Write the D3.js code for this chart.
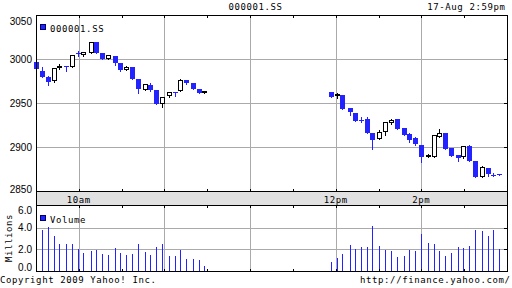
<!DOCTYPE html>
<html>
<head>
<meta charset="utf-8">
<script src="https://cdn.jsdelivr.net/npm/d3@7"></script>
<style>
  body { margin: 0; background: #fff; }
  svg { display: block; }
</style>
</head>
<body>
<svg id="chart"></svg>
<script>
// 000001.SS intraday, 17-Aug 2009
// bar times are minutes after 9:30
var morningTime  = [0, 4.2, 8.4, 12.6, 16.1, 21.0, 25.2, 29.4, 32.9, 38.5, 42.0, 46.2, 50.4, 55.3, 58.8, 63.1, 67.3, 71.5, 76.4, 79.9, 84.1, 88.3, 93.2, 97.4, 100.9, 105.1, 110.0, 114.2, 117.7];
var morningOpen  = [2996.3, 2986.5, 2980.0, 2975.3, 2989.4, 2992.0, 2990.6, 3006.8, 3004.2, 3007.0, 3019.0, 3006.5, 3000.0, 3003.0, 2995.0, 2987.2, 2990.6, 2977.0, 2965.1, 2970.1, 2964.4, 2948.5, 2957.6, 2962.2, 2963.3, 2975.8, 2972.4, 2965.6, 2961.0];
var morningHigh  = [2997.5, 2991.0, 2980.5, 2989.6, 2994.0, 2992.0, 3004.4, 3008.7, 3007.8, 3019.2, 3019.2, 3006.7, 3004.7, 3003.2, 2995.2, 2991.8, 2990.8, 2977.2, 2971.4, 2972.4, 2964.6, 2956.7, 2962.4, 2962.2, 2977.0, 2976.0, 2972.6, 2965.8, 2963.5];
var morningLow   = [2987.5, 2979.5, 2970.0, 2974.0, 2989.0, 2986.0, 2990.4, 3003.0, 3003.0, 3006.8, 3006.3, 2999.5, 2999.8, 2992.8, 2986.8, 2987.0, 2976.8, 2961.0, 2964.9, 2964.2, 2948.3, 2945.8, 2956.6, 2957.6, 2963.1, 2971.2, 2965.4, 2960.8, 2960.8];
var morningClose = [2988.3, 2980.0, 2974.2, 2989.4, 2991.7, 2991.5, 3004.2, 3006.3, 3007.6, 3019.0, 3006.5, 2999.7, 3004.5, 2995.0, 2987.0, 2990.6, 2977.0, 2965.6, 2971.2, 2964.4, 2948.5, 2956.5, 2962.2, 2961.8, 2975.8, 2972.4, 2965.6, 2961.0, 2963.3];
var morningVol   = [3.5, 3.78, 4.03, 3.22, 2.48, 2.48, 2.48, 2.0, 1.64, 1.83, 1.92, 1.55, 1.46, 2.1, 1.64, 1.46, 1.55, 2.48, 1.74, 1.46, 2.2, 2.48, 1.36, 1.36, 1.92, 1.09, 1.09, 0.99, 0.43];

var afternoonTime  = [206.7, 210.9, 214.4, 220.0, 223.5, 227.7, 231.9, 235.4, 240.3, 244.5, 248.7, 252.9, 257.8, 261.3, 265.5, 269.7, 274.6, 278.8, 282.3, 286.6, 290.8, 295.7, 299.2, 303.4, 307.6, 312.5, 316.7, 320.2, 324.4];
var afternoonOpen  = [2962.2, 2957.6, 2958.8, 2944.0, 2938.3, 2930.5, 2931.5, 2915.6, 2909.4, 2916.7, 2927.6, 2931.5, 2921.3, 2914.4, 2910.6, 2902.6, 2889.0, 2889.0, 2911.7, 2915.6, 2898.5, 2890.6, 2889.0, 2900.8, 2884.0, 2866.3, 2875.8, 2868.7, 2869.2];
var afternoonHigh  = [2962.4, 2960.8, 2959.0, 2944.2, 2938.5, 2933.7, 2933.7, 2915.8, 2919.0, 2928.2, 2931.5, 2931.7, 2921.5, 2915.6, 2911.8, 2902.8, 2892.5, 2913.5, 2920.0, 2915.8, 2898.7, 2890.8, 2901.0, 2902.2, 2884.2, 2878.0, 2876.0, 2870.2, 2869.4];
var afternoonLow   = [2957.0, 2955.3, 2943.3, 2936.7, 2929.7, 2928.0, 2915.4, 2897.7, 2909.2, 2913.3, 2926.3, 2920.6, 2913.1, 2905.3, 2902.8, 2883.3, 2888.8, 2888.8, 2911.5, 2897.8, 2889.6, 2884.0, 2888.0, 2884.2, 2866.1, 2866.1, 2866.7, 2866.7, 2868.0];
var afternoonClose = [2957.2, 2959.9, 2943.5, 2939.4, 2929.9, 2930.0, 2915.6, 2908.0, 2916.7, 2928.0, 2930.3, 2920.8, 2913.3, 2907.6, 2903.0, 2889.0, 2890.5, 2913.3, 2915.6, 2898.0, 2889.8, 2887.8, 2900.8, 2884.4, 2866.3, 2876.9, 2869.0, 2868.3, 2868.8];
var afternoonVol   = [0.84, 1.21, 1.58, 2.39, 2.02, 2.2, 2.2, 4.16, 2.29, 1.92, 1.83, 1.27, 1.36, 1.92, 1.83, 3.41, 2.57, 2.48, 1.83, 1.36, 1.64, 2.2, 2.1, 2.29, 3.78, 3.69, 3.22, 3.78, 2.02];

var priceTicks = [3050, 3000, 2950, 2900, 2850];
var volumeTicks = [6, 4, 2, 0];
var timeTicks = [30, 60, 90, 120, 150, 180, 210, 240, 270, 300];
var timeGrid = [30, 90, 150, 210, 270];
var timeLabels = [
  { t: 30, label: "10am" },
  { t: 210, label: "12pm" },
  { t: 270, label: "2pm" }
];

var blue = "#2323ff";
var grid = "#aaaaaa";
var mono = "'DejaVu Sans Mono', monospace";
var sans = "'Liberation Sans', Arial, sans-serif";

var width = 512, height = 288;
var left = 36, right = 507;
var priceTop = 15, priceBottom = 191;
var bandBottom = 205;
var volTop = 206, volBottom = 271;

// build bars from the arrays
function makeBars(t, o, h, l, c, v) {
  return t.map(function (d, i) {
    return { t: d, open: o[i], high: h[i], low: l[i], close: c[i], vol: v[i] };
  });
}
var bars = makeBars(morningTime, morningOpen, morningHigh, morningLow, morningClose, morningVol)
  .concat(makeBars(afternoonTime, afternoonOpen, afternoonHigh, afternoonLow, afternoonClose, afternoonVol));

var x = d3.scaleLinear().domain([0, 330]).range([left, right]);
var y = d3.scaleLinear().domain([2850, 3050]).range([priceBottom, priceTop]);
var vy = d3.scaleLinear().domain([0, 6]).range([volBottom, volTop]);

var svg = d3.select("#chart")
  .attr("width", width)
  .attr("height", height)
  .style("background", "#fff");

// gridlines
svg.append("g").selectAll("line")
  .data([3000, 2950, 2900])
  .enter().append("line")
  .attr("x1", left).attr("x2", right)
  .attr("y1", d => Math.round(y(d)) + 0.5).attr("y2", d => Math.round(y(d)) + 0.5)
  .attr("stroke", grid);

svg.append("g").selectAll("line")
  .data([4, 2])
  .enter().append("line")
  .attr("x1", left).attr("x2", right)
  .attr("y1", d => Math.round(vy(d)) + 0.5).attr("y2", d => Math.round(vy(d)) + 0.5)
  .attr("stroke", grid);

timeGrid.forEach(function (t) {
  var gx = Math.round(x(t)) + 0.5;
  svg.append("line").attr("x1", gx).attr("x2", gx)
    .attr("y1", priceTop).attr("y2", priceBottom).attr("stroke", grid);
  svg.append("line").attr("x1", gx).attr("x2", gx)
    .attr("y1", bandBottom).attr("y2", volBottom).attr("stroke", grid);
});

// time band
svg.append("rect")
  .attr("x", left).attr("y", priceBottom)
  .attr("width", right - left).attr("height", bandBottom - priceBottom)
  .attr("fill", "#e1e1e1");

svg.append("g").selectAll("text")
  .data(timeLabels)
  .enter().append("text")
  .attr("x", d => x(d.t))
  .attr("y", 202.5)
  .attr("text-anchor", "middle")
  .attr("font-family", mono)
  .attr("font-size", "9px")
  .attr("letter-spacing", "0.6px")
  .text(d => d.label);

// volume bars (1px sticks)
svg.append("g")
  .attr("shape-rendering", "crispEdges")
  .selectAll("rect")
  .data(bars)
  .enter().append("rect")
  .attr("x", d => Math.round(x(d.t)))
  .attr("y", d => Math.round(vy(d.vol)))
  .attr("width", 1)
  .attr("height", d => vy(0) - Math.round(vy(d.vol)))
  .attr("fill", blue);

// candles
var candle = svg.append("g").selectAll("g")
  .data(bars)
  .enter().append("g");

candle.append("line")
  .attr("x1", d => Math.round(x(d.t)) + 0.5)
  .attr("x2", d => Math.round(x(d.t)) + 0.5)
  .attr("y1", d => Math.round(y(d.high)))
  .attr("y2", d => Math.round(y(d.low)) + 1)
  .attr("stroke", d => d.close < d.open ? blue : "#000");

candle.each(function (d) {
  var cx = Math.round(x(d.t));
  var top = Math.round(y(Math.max(d.open, d.close)));
  var bot = Math.round(y(Math.min(d.open, d.close)));
  var g = d3.select(this);
  if (d.close < d.open) {
    g.append("rect")
      .attr("x", cx - 2).attr("y", top)
      .attr("width", 5).attr("height", Math.max(1, bot - top))
      .attr("fill", blue);
  } else if (bot - top <= 1) {
    g.append("rect")
      .attr("x", cx - 2).attr("y", top)
      .attr("width", 5).attr("height", 2)
      .attr("fill", "#000");
  } else {
    g.append("rect")
      .attr("x", cx - 1.5).attr("y", top + 0.5)
      .attr("width", 4).attr("height", bot - top - 1)
      .attr("fill", "#fff")
      .attr("stroke", "#000");
  }
});

// frame
var frame = svg.append("g").attr("stroke", "#000").attr("shape-rendering", "crispEdges");
frame.append("line").attr("x1", left).attr("x2", right + 1).attr("y1", priceTop + 0.5).attr("y2", priceTop + 0.5);
frame.append("line").attr("x1", left).attr("x2", right + 1).attr("y1", priceBottom + 0.5).attr("y2", priceBottom + 0.5);
frame.append("line").attr("x1", left).attr("x2", right + 1).attr("y1", bandBottom + 0.5).attr("y2", bandBottom + 0.5);
frame.append("line").attr("x1", left).attr("x2", right + 1).attr("y1", volBottom + 0.5).attr("y2", volBottom + 0.5);
frame.append("line").attr("x1", left + 0.5).attr("x2", left + 0.5).attr("y1", priceTop).attr("y2", volBottom + 1);
frame.append("line").attr("x1", right + 0.5).attr("x2", right + 0.5).attr("y1", priceTop).attr("y2", volBottom + 1);

timeTicks.forEach(function (t) {
  var tx = Math.round(x(t)) + 0.5;
  frame.append("line").attr("x1", tx).attr("x2", tx).attr("y1", priceTop).attr("y2", priceTop + 3);
  frame.append("line").attr("x1", tx).attr("x2", tx).attr("y1", priceBottom - 2).attr("y2", priceBottom);
  frame.append("line").attr("x1", tx).attr("x2", tx).attr("y1", bandBottom).attr("y2", bandBottom + 3);
  frame.append("line").attr("x1", tx).attr("x2", tx).attr("y1", volBottom - 2).attr("y2", volBottom);
});

[3000, 2950, 2900].forEach(function (v) {
  var ty = Math.round(y(v)) + 0.5;
  frame.append("line").attr("x1", right - 3).attr("x2", right).attr("y1", ty).attr("y2", ty);
});
[4, 2].forEach(function (v) {
  var ty = Math.round(vy(v)) + 0.5;
  frame.append("line").attr("x1", right - 3).attr("x2", right).attr("y1", ty).attr("y2", ty);
});

// y labels
svg.append("g").selectAll("text")
  .data(priceTicks)
  .enter().append("text")
  .attr("x", 32)
  .attr("y", d => Math.min(priceBottom + 1.7, Math.max(priceTop + 10, y(d) + 3.5)))
  .attr("text-anchor", "end")
  .attr("font-family", sans)
  .attr("font-size", "10px")
  .text(d => d);

svg.append("g").selectAll("text")
  .data(volumeTicks)
  .enter().append("text")
  .attr("x", 32)
  .attr("y", d => Math.min(volBottom - 0.3, Math.max(volTop + 8.3, vy(d) + 3.5)))
  .attr("text-anchor", "end")
  .attr("font-family", sans)
  .attr("font-size", "10px")
  .text(d => d.toFixed(1));

svg.append("text")
  .attr("transform", "translate(11.5,238) rotate(-90)")
  .attr("text-anchor", "middle")
  .attr("font-family", mono)
  .attr("font-size", "9px")
  .attr("letter-spacing", "0.6px")
  .text("Millions");

// legends
svg.append("rect").attr("x", 40.5).attr("y", 24.5).attr("width", 5).attr("height", 5)
  .attr("fill", blue).attr("stroke", "#00006a");
svg.append("rect").attr("x", 40.5).attr("y", 215.5).attr("width", 5).attr("height", 5)
  .attr("fill", blue).attr("stroke", "#00006a");

function monoText(tx, ty, anchor, s) {
  svg.append("text")
    .attr("x", tx).attr("y", ty)
    .attr("text-anchor", anchor)
    .attr("font-family", mono)
    .attr("font-size", "9px")
    .attr("letter-spacing", "0.6px")
    .text(s);
}
monoText(50, 32, "start", "000001.SS");
monoText(50, 222.5, "start", "Volume");
monoText(255.5, 10, "middle", "000001.SS");
monoText(505.5, 10, "end", "17-Aug 2:59pm");
monoText(0, 283, "start", "Copyright 2009 Yahoo! Inc.");
monoText(510.5, 283, "end", "http://finance.yahoo.com/");
</script>
</body>
</html>
